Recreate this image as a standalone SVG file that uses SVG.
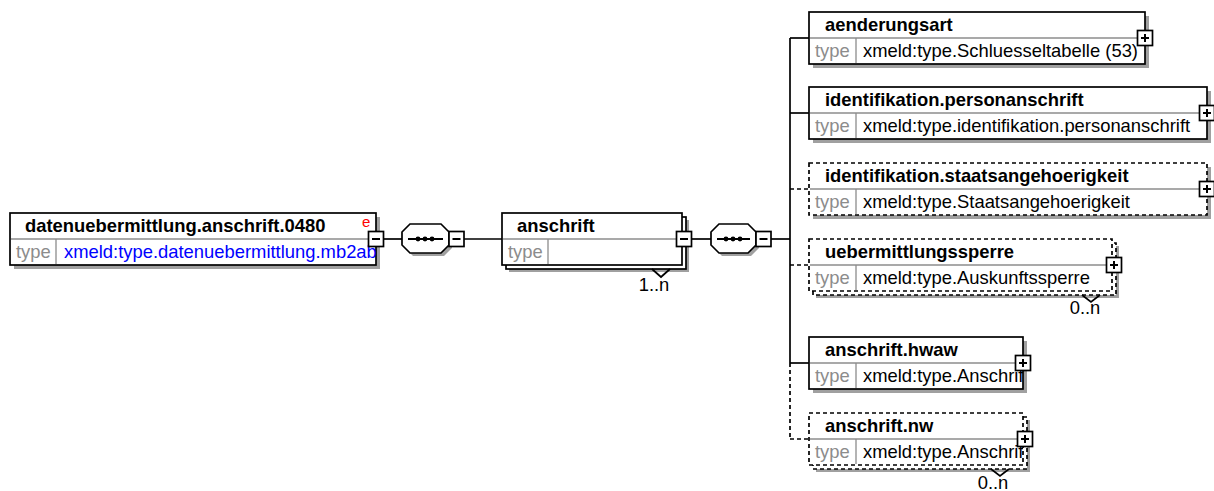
<svg xmlns="http://www.w3.org/2000/svg" width="1214" height="491" viewBox="0 0 1214 491">
<style>
.bg{fill:#fff}
.box{fill:#fff;stroke:#000;stroke-width:1.7}
.opt{stroke-dasharray:4 3}
.shadow{fill:#a0a0a0}
.div{stroke:#8c8c8c;stroke-width:1.3}
.title{font-family:"Liberation Sans",Arial,sans-serif;font-weight:bold;font-size:18.4px;fill:#000}
.lbl{font-family:"Liberation Sans",Arial,sans-serif;font-size:18.4px;fill:#8c8c8c}
.val{font-family:"Liberation Sans",Arial,sans-serif;font-size:18.4px;fill:#000}
.blue{fill:#0000ff}
.mult{font-family:"Liberation Sans",Arial,sans-serif;font-size:18.4px;fill:#000;text-anchor:middle}
.conn{stroke:#000;stroke-width:1.7;fill:none}
.dash{stroke-dasharray:4 3}
.btn{fill:#fff;stroke:#000;stroke-width:1.7}
.sign{stroke:#000;stroke-width:2}
.dot{fill:#000}
</style>
<defs>
<clipPath id="c-root"><rect x="10" y="239" width="366" height="26"/></clipPath>
<clipPath id="c-hwaw"><rect x="809" y="363" width="214" height="26"/></clipPath>
<clipPath id="c-nw"><rect x="809" y="439" width="214" height="26"/></clipPath>
</defs>
<rect class="bg" x="0" y="0" width="1214" height="491"/>

<g id="connectors">
<line class="conn" x1="384" y1="239" x2="402" y2="239"/>
<line class="conn" x1="464" y1="239" x2="502" y2="239"/>
<line class="conn" x1="692" y1="239" x2="711" y2="239"/>
<line class="conn" x1="771" y1="239" x2="790" y2="239"/>
<line class="conn" x1="790" y1="38" x2="790" y2="363"/>
<line class="conn dash" x1="790" y1="363" x2="790" y2="439"/>
<line class="conn" x1="790" y1="38" x2="809" y2="38"/>
<line class="conn" x1="790" y1="113" x2="809" y2="113"/>
<line class="conn dash" x1="790" y1="189" x2="809" y2="189"/>
<line class="conn dash" x1="790" y1="265" x2="809" y2="265"/>
<line class="conn" x1="790" y1="363" x2="809" y2="363"/>
<line class="conn dash" x1="790" y1="439" x2="809" y2="439"/>
</g>

<g id="node-datenuebermittlung">
<rect class="shadow" x="14" y="217" width="366" height="52"/>
<rect class="box" x="10" y="213" width="366" height="52"/>
<line class="div" x1="11" y1="239" x2="375" y2="239"/>
<line class="div" x1="56" y1="239" x2="56" y2="264"/>
<text class="title" x="25" y="232">datenuebermittlung.anschrift.0480</text>
<text x="362" y="227" font-family="Liberation Sans, Arial, sans-serif" font-size="15" fill="#ff0000">e</text>
<text class="lbl" x="16" y="258">type</text>
<text class="val blue" x="64" y="258" clip-path="url(#c-root)">xmeld:type.datenuebermittlung.mb2ab</text>
<rect class="btn" x="368.5" y="231.5" width="15" height="15"/>
<line class="sign" x1="372" y1="239" x2="380" y2="239"/>
</g>

<g id="seq-1">
<polygon class="shadow" points="413,227 444,227 452,235 452,248 444,256 413,256 405,248 405,235"/>
<polygon class="box" points="410,224 441,224 449,232 449,245 441,253 410,253 402,245 402,232"/>
<line class="sign" x1="408" y1="239" x2="443" y2="239"/>
<circle class="dot" cx="418" cy="239" r="2.4"/>
<circle class="dot" cx="425" cy="239" r="2.4"/>
<circle class="dot" cx="432" cy="239" r="2.4"/>
<rect class="btn" x="449" y="231.5" width="15" height="15"/>
<line class="sign" x1="452.5" y1="239" x2="460.5" y2="239"/>
</g>

<g id="node-anschrift">
<rect class="shadow" x="509" y="220" width="180" height="52"/>
<rect class="box" x="506" y="217" width="180" height="52"/>
<rect class="box" x="502" y="213" width="180" height="52"/>
<line class="div" x1="503" y1="239" x2="681" y2="239"/>
<line class="div" x1="548" y1="239" x2="548" y2="264"/>
<text class="title" x="517" y="232">anschrift</text>
<text class="lbl" x="508" y="258">type</text>
<rect class="btn" x="676.5" y="231.5" width="15" height="15"/>
<line class="sign" x1="680" y1="239" x2="688" y2="239"/>
<polyline class="conn" points="652,269 661,277 670,269"/>
<text class="mult" x="654" y="291">1..n</text>
</g>

<g id="seq-2">
<polygon class="shadow" points="722,227 751,227 759,235 759,248 751,256 722,256 714,248 714,235"/>
<polygon class="box" points="719,224 748,224 756,232 756,245 748,253 719,253 711,245 711,232"/>
<line class="sign" x1="717" y1="239" x2="750" y2="239"/>
<circle class="dot" cx="726" cy="239" r="2.4"/>
<circle class="dot" cx="733" cy="239" r="2.4"/>
<circle class="dot" cx="740" cy="239" r="2.4"/>
<rect class="btn" x="756" y="231.5" width="15" height="15"/>
<line class="sign" x1="759.5" y1="239" x2="767.5" y2="239"/>
</g>

<g id="node-aenderungsart">
<rect class="shadow" x="813" y="16" width="336" height="52"/>
<rect class="box" x="809" y="12" width="336" height="52"/>
<line class="div" x1="810" y1="38" x2="1144" y2="38"/>
<line class="div" x1="856" y1="38" x2="856" y2="63"/>
<text class="title" x="825" y="31">aenderungsart</text>
<text class="lbl" x="815" y="57">type</text>
<text class="val" x="863" y="57">xmeld:type.Schluesseltabelle (53)</text>
<rect class="btn" x="1137.5" y="30.5" width="15" height="15"/>
<line class="sign" x1="1141" y1="38" x2="1149" y2="38"/>
<line class="sign" x1="1145" y1="34" x2="1145" y2="42"/>
</g>

<g id="node-identifikation-personanschrift">
<rect class="shadow" x="813" y="91" width="398" height="52"/>
<rect class="box" x="809" y="87" width="398" height="52"/>
<line class="div" x1="810" y1="113" x2="1206" y2="113"/>
<line class="div" x1="856" y1="113" x2="856" y2="138"/>
<text class="title" x="825" y="106">identifikation.personanschrift</text>
<text class="lbl" x="815" y="132">type</text>
<text class="val" x="863" y="132">xmeld:type.identifikation.personanschrift</text>
<rect class="btn" x="1199.5" y="105.5" width="15" height="15"/>
<line class="sign" x1="1203" y1="113" x2="1211" y2="113"/>
<line class="sign" x1="1207" y1="109" x2="1207" y2="117"/>
</g>

<g id="node-identifikation-staatsangehoerigkeit">
<rect class="shadow" x="813" y="167" width="398" height="52"/>
<rect class="box opt" x="809" y="163" width="398" height="52"/>
<line class="div" x1="810" y1="189" x2="1206" y2="189"/>
<line class="div" x1="856" y1="189" x2="856" y2="214"/>
<text class="title" x="825" y="182">identifikation.staatsangehoerigkeit</text>
<text class="lbl" x="815" y="208">type</text>
<text class="val" x="863" y="208">xmeld:type.Staatsangehoerigkeit</text>
<rect class="btn" x="1199.5" y="181.5" width="15" height="15"/>
<line class="sign" x1="1203" y1="189" x2="1211" y2="189"/>
<line class="sign" x1="1207" y1="185" x2="1207" y2="193"/>
</g>

<g id="node-uebermittlungssperre">
<rect class="shadow" x="816" y="246" width="303" height="52"/>
<rect class="box opt" x="813" y="243" width="303" height="52"/>
<rect class="box opt" x="809" y="239" width="303" height="52"/>
<line class="div" x1="810" y1="265" x2="1111" y2="265"/>
<line class="div" x1="856" y1="265" x2="856" y2="290"/>
<text class="title" x="825" y="258">uebermittlungssperre</text>
<text class="lbl" x="815" y="284">type</text>
<text class="val" x="863" y="284">xmeld:type.Auskunftssperre</text>
<rect class="btn" x="1106.5" y="257.5" width="15" height="15"/>
<line class="sign" x1="1110" y1="265" x2="1118" y2="265"/>
<line class="sign" x1="1114" y1="261" x2="1114" y2="269"/>
<polyline class="conn" points="1082,295 1091,302 1100,295"/>
<text class="mult" x="1085" y="314">0..n</text>
</g>

<g id="node-anschrift-hwaw">
<rect class="shadow" x="813" y="341" width="214" height="52"/>
<rect class="box" x="809" y="337" width="214" height="52"/>
<line class="div" x1="810" y1="363" x2="1022" y2="363"/>
<line class="div" x1="856" y1="363" x2="856" y2="388"/>
<text class="title" x="825" y="356">anschrift.hwaw</text>
<text class="lbl" x="815" y="382">type</text>
<text class="val" x="863" y="382" clip-path="url(#c-hwaw)">xmeld:type.Anschrift</text>
<rect class="btn" x="1015.5" y="355.5" width="15" height="15"/>
<line class="sign" x1="1019" y1="363" x2="1027" y2="363"/>
<line class="sign" x1="1023" y1="359" x2="1023" y2="367"/>
</g>

<g id="node-anschrift-nw">
<rect class="shadow" x="816" y="420" width="214" height="52"/>
<rect class="box opt" x="813" y="417" width="214" height="52"/>
<rect class="box opt" x="809" y="413" width="214" height="52"/>
<line class="div" x1="810" y1="439" x2="1022" y2="439"/>
<line class="div" x1="856" y1="439" x2="856" y2="464"/>
<text class="title" x="825" y="432">anschrift.nw</text>
<text class="lbl" x="815" y="458">type</text>
<text class="val" x="863" y="458" clip-path="url(#c-nw)">xmeld:type.Anschrift</text>
<rect class="btn" x="1017.5" y="431.5" width="15" height="15"/>
<line class="sign" x1="1021" y1="439" x2="1029" y2="439"/>
<line class="sign" x1="1025" y1="435" x2="1025" y2="443"/>
<polyline class="conn" points="991,469 1000,476 1009,469"/>
<text class="mult" x="993" y="489">0..n</text>
</g>
</svg>
